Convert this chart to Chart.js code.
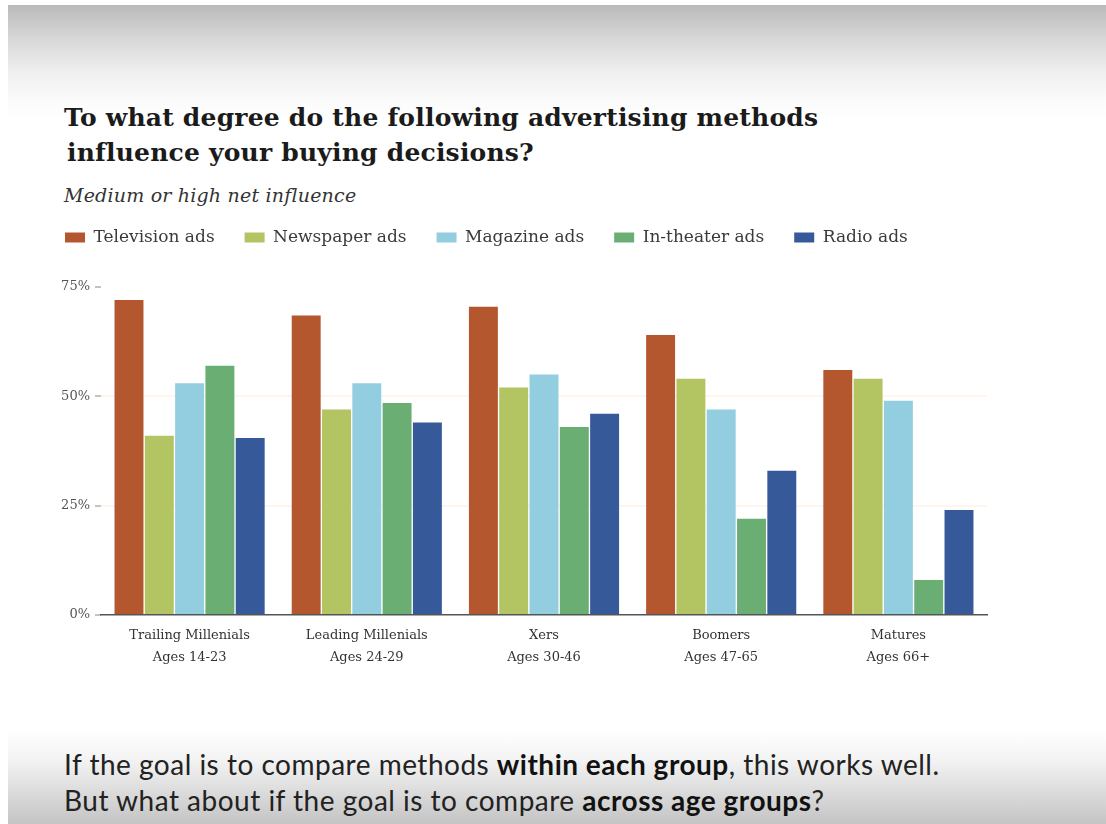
<!DOCTYPE html>
<html>
<head>
<meta charset="utf-8">
<title>Advertising influence by age group</title>
<script src="https://cdn.jsdelivr.net/npm/chart.js@4"></script>
<style>
    html, body {
        margin: 0;
        padding: 0;
        width: 1106px;
        height: 824px;
        background: #ffffff;
        overflow: hidden;
    }
    .slide {
        position: absolute;
        left: 8px;
        top: 5px;
        right: 0;
        bottom: 0;
        background: linear-gradient(to bottom, #bababa 0px, #d8d8d8 35px, #eeeeee 65px, #fbfbfb 95px, #ffffff 115px, #ffffff 725px, #f3f3f3 755px, #c4c4c4 819px);
    }
    .title {
        position: absolute;
        left: 64px;
        top: 100px;
        font-family: "DejaVu Serif", serif;
        font-weight: bold;
        font-size: 25px;
        letter-spacing: 0.2px;
        line-height: 35px;
        color: #1b1b1b;
        white-space: nowrap;
    }
    .title .second {
        padding-left: 3px;
    }
    .subtitle {
        position: absolute;
        left: 64px;
        top: 184px;
        font-family: "DejaVu Serif", serif;
        font-style: italic;
        font-size: 19px;
        letter-spacing: 0.2px;
        color: #333333;
        white-space: nowrap;
    }
    .note {
        position: absolute;
        left: 64px;
        top: 746px;
        font-family: Lato, sans-serif;
        font-size: 28px;
        letter-spacing: 0.5px;
        line-height: 36px;
        color: #222222;
        white-space: nowrap;
    }
    .note b {
        font-weight: bold;
        color: #111111;
    }
    .chart-box {
        position: absolute;
        left: 0;
        top: 199px;
        width: 1106px;
        height: 471px;
    }
</style>
</head>
<body>
<div class="slide"></div>
<div class="title">To what degree do the following advertising methods<br><span class="second">influence your buying decisions?</span></div>
<div class="subtitle">Medium or high net influence</div>
<div class="chart-box"><canvas id="adsChart"></canvas></div>
<div class="note">If the goal is to compare methods <b>within each group</b>, this works well.<br>But what about if the goal is to compare <b>across age groups</b>?</div>

<script>
// age groups (two-line tick labels)
const groups = [
    ["Trailing Millenials", "Ages 14-23"],
    ["Leading Millenials", "Ages 24-29"],
    ["Xers", "Ages 30-46"],
    ["Boomers", "Ages 47-65"],
    ["Matures", "Ages 66+"]
];

// % with medium or high net influence
const televisionAds = [72, 68.5, 70.5, 64, 56];
const newspaperAds = [41, 47, 52, 54, 54];
const magazineAds = [53, 53, 55, 47, 49];
const theaterAds = [57, 48.5, 43, 22, 8];
const radioAds = [40.5, 44, 46, 33, 24];

const yTicks = [0, 25, 50, 75];

document.addEventListener("DOMContentLoaded", () => {
    const ctx = document.getElementById("adsChart").getContext("2d");
    const serif = "'DejaVu Serif', serif";

    const makeSet = (label, values, color) => ({
        label: label,
        data: values,
        backgroundColor: color,
        borderWidth: 0,
        barPercentage: 0.955,
        categoryPercentage: 0.855
    });

    const data = {
        labels: groups,
        datasets: [
            makeSet("Television ads", televisionAds, "#b4562e"),
            makeSet("Newspaper ads", newspaperAds, "#b3c463"),
            makeSet("Magazine ads", magazineAds, "#93cde0"),
            makeSet("In-theater ads", theaterAds, "#6bae74"),
            makeSet("Radio ads", radioAds, "#36599a")
        ]
    };

    // extra room between the legend and the plot
    const legendGap = {
        id: "legendGap",
        beforeInit(chart) {
            const fit = chart.legend.fit;
            chart.legend.fit = function () {
                fit.bind(chart.legend)();
                this.height += 31;
            };
        }
    };

    const options = {
        responsive: true,
        maintainAspectRatio: false,
        animation: false,
        layout: {
            padding: { left: 35, right: 119, top: 0, bottom: 0 }
        },
        plugins: {
            legend: {
                display: true,
                position: "top",
                align: "start",
                labels: {
                    boxWidth: 20,
                    boxHeight: 10,
                    padding: 30,
                    color: "#3a3a3a",
                    font: { family: serif, size: 17 }
                }
            },
            tooltip: { enabled: false }
        },
        scales: {
            x: {
                grid: { display: false },
                border: { display: true, color: "#555555", width: 1.5 },
                ticks: {
                    color: "#333333",
                    padding: 2,
                    font: { family: serif, size: 13, lineHeight: 1.65 },
                    maxRotation: 0
                }
            },
            y: {
                min: 0,
                max: 75,
                z: 1, // faint grid lines run across the bars
                afterBuildTicks: (scale) => {
                    scale.ticks = yTicks.map(v => ({ value: v }));
                },
                afterFit: (scale) => {
                    scale.width = 66;
                },
                border: { display: false },
                grid: {
                    color: (c) => (c.tick && (c.tick.value === 0 || c.tick.value === 75)) ? "rgba(0,0,0,0)" : "rgba(255, 236, 220, 0.5)",
                    lineWidth: 2,
                    tickLength: 6,
                    tickColor: "#888888",
                    tickWidth: 1
                },
                ticks: {
                    color: "#555555",
                    padding: 5,
                    font: { family: serif, size: 13 },
                    callback: (v) => v + "%"
                }
            }
        }
    };

    new Chart(ctx, {
        type: "bar",
        data: data,
        options: options,
        plugins: [legendGap]
    });
});
</script>
</body>
</html>
